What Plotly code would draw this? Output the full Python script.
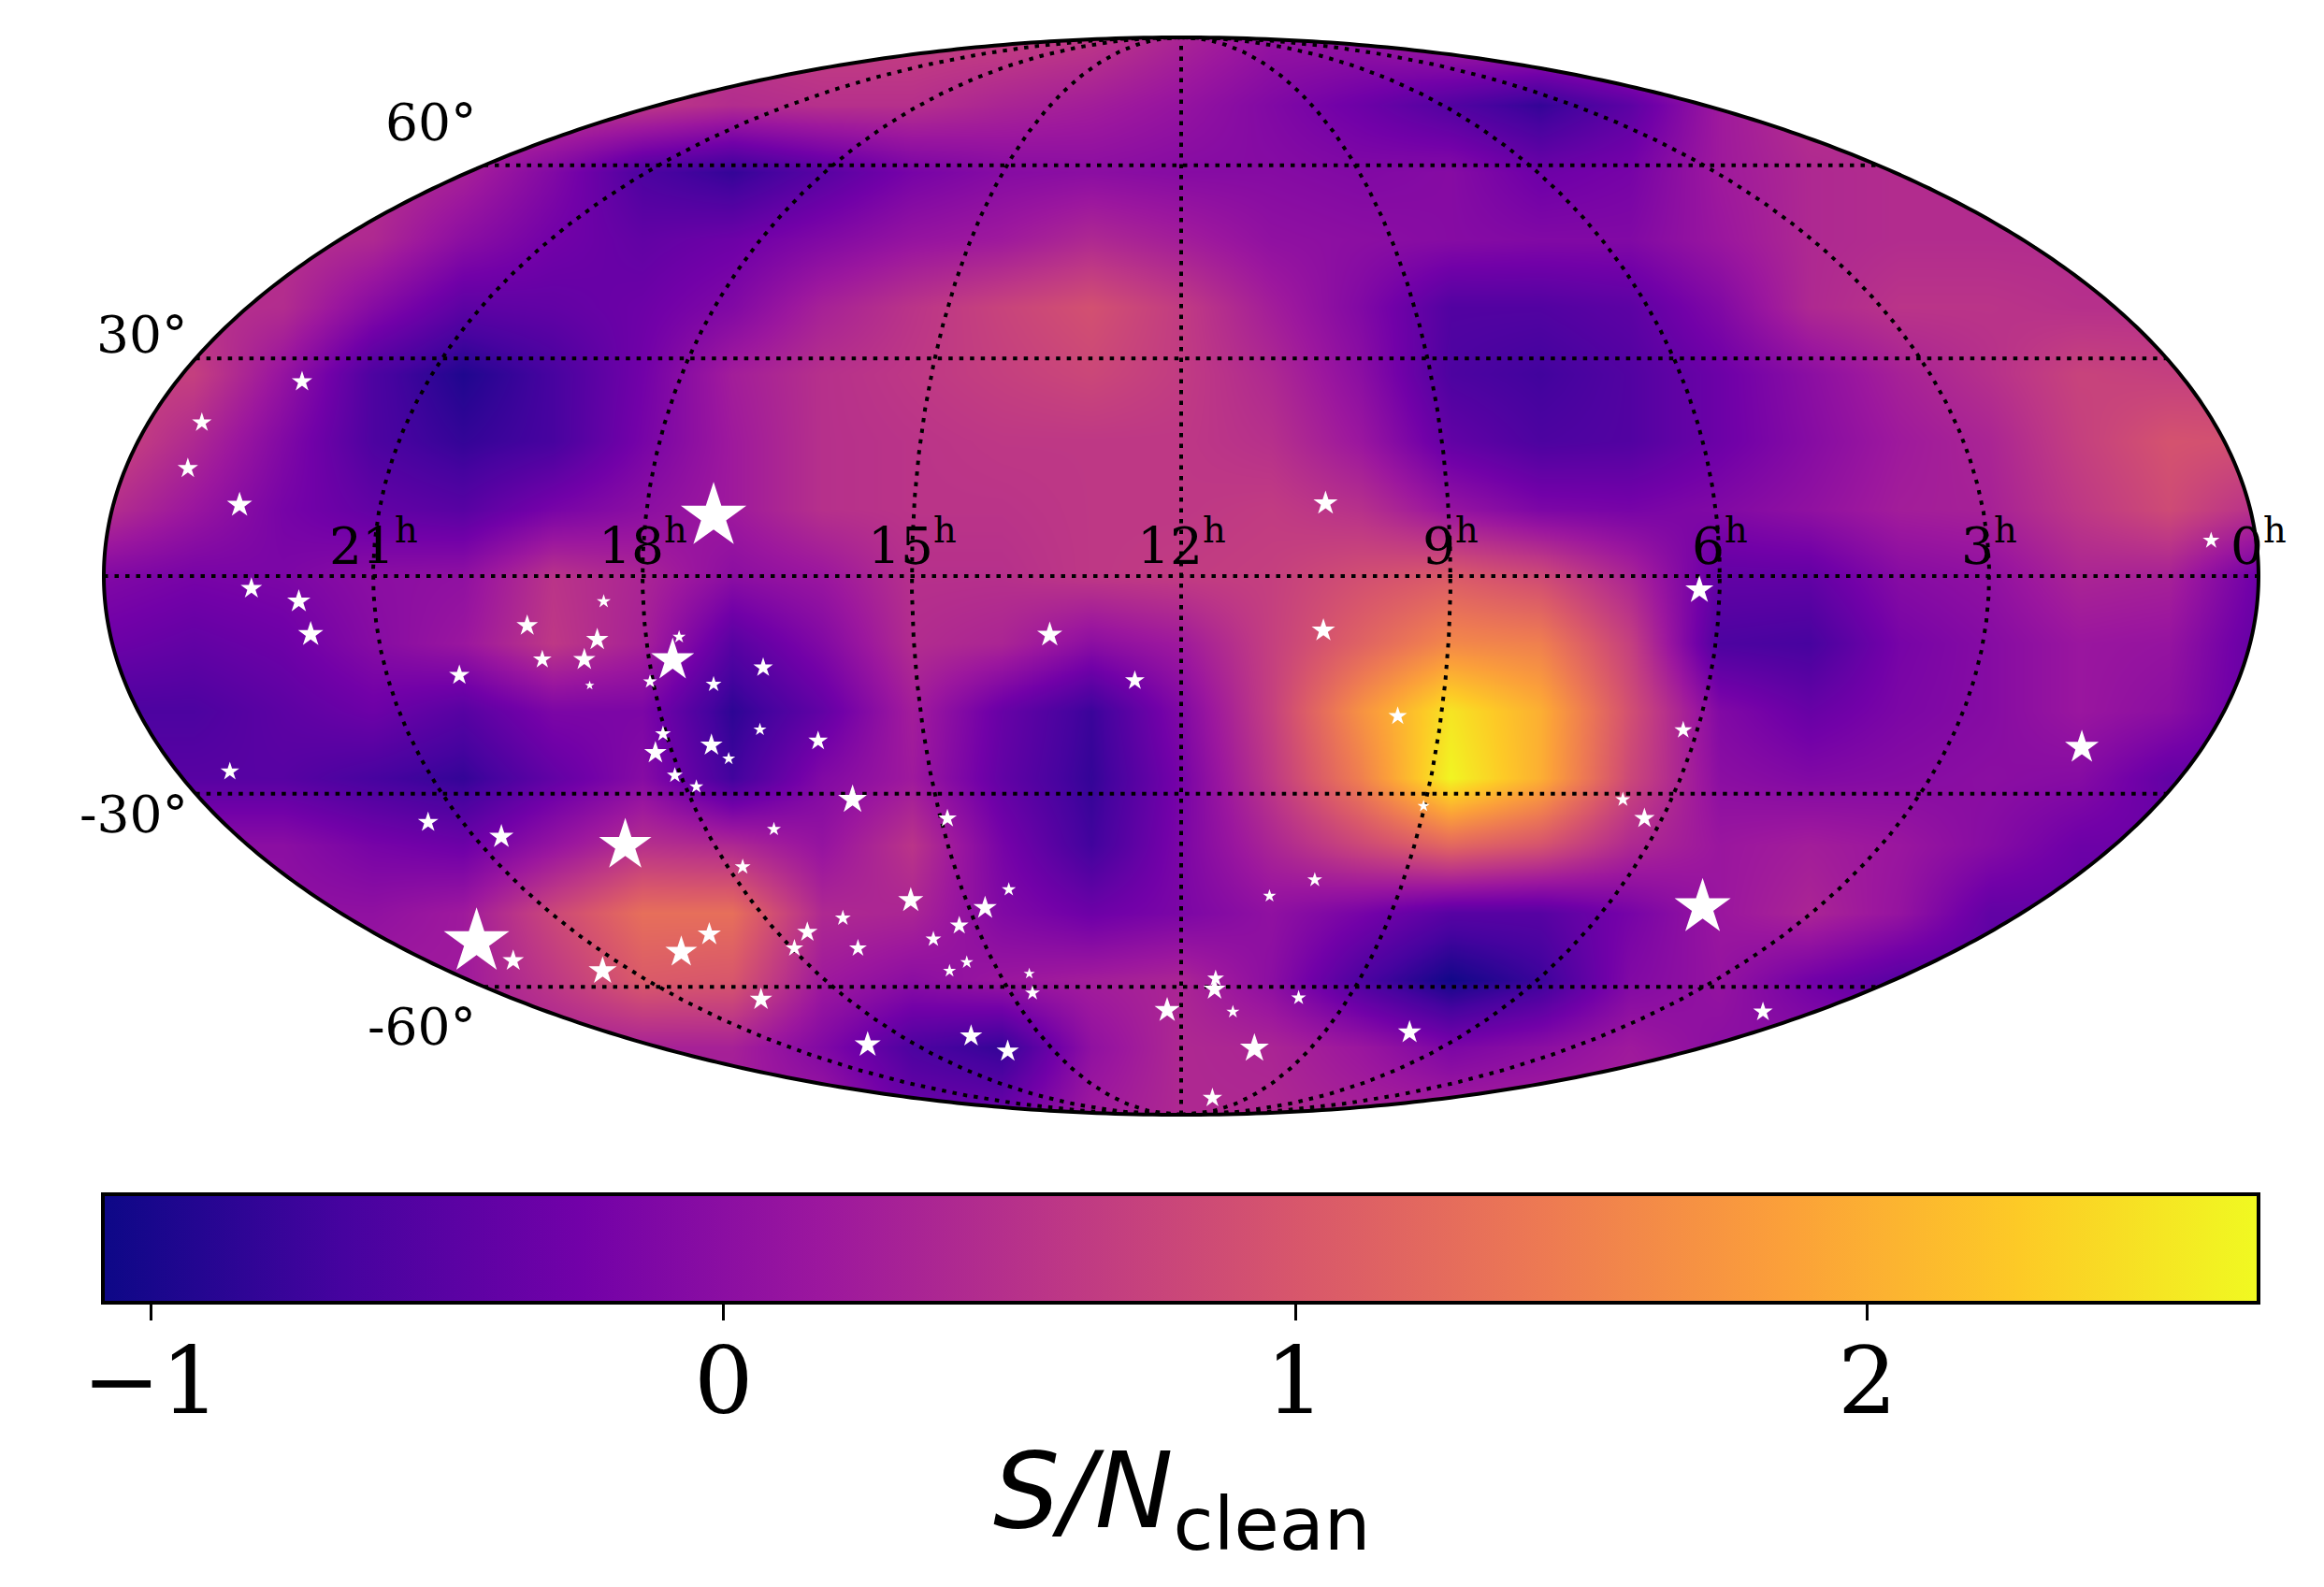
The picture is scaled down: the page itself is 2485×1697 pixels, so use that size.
import numpy as np
import plotly.graph_objects as go

W, H = 2485, 1697

# Sky map values on a regular grid of the projected plane
plane_x = [i / 12 - 1 for i in range(25)]
plane_y = [1 - i / 8 for i in range(17)]
snr_00 = [.6,.6,.6,.6,.6,.6,.6,.6,.7,.7,.7,.6,.35,.1,.1,.3,.4,.5,.5,.5,.5,.5,.5,.5,.5]
snr_01 = [.6,.6,.6,.6,.6,.6,.6,.45,.5,.5,.35,.25,.1,-.1,-.3,-.55,-.8,-.45,.2,.5,.5,.5,.5,.5,.5]
snr_02 = [.5,.5,.5,.5,.3,-.1,-.6,-.8,-.5,-.2,-.05,0,-.05,-.05,-.1,-.05,-.3,-.2,.2,.4,.45,.45,.45,.45,.45]
snr_03 = [.5,.5,.5,.4,0,-.25,-.4,-.3,-.1,.1,.2,.4,.25,.05,0,-.05,-.1,-.1,.15,.4,.45,.45,.45,.45,.45]
snr_04 = [.5,.5,.45,-.05,-.45,-.4,-.3,-.1,.3,.55,.75,.92,.65,.25,-.1,-.55,-.55,-.45,-.1,.4,.55,.55,.5,.5,.5]
snr_05 = [.75,.7,.1,-.6,-.95,-.65,-.25,.25,.5,.6,.7,.8,.65,.4,0,-.6,-.7,-.55,-.3,0,.3,.5,.75,.7,.7]
snr_06 = [.8,.4,-.1,-.6,-.8,-.65,-.2,.2,.5,.55,.6,.6,.6,.5,.15,-.4,-.6,-.55,-.3,-.05,.2,.35,.7,.95,.9]
snr_07 = [.5,.15,-.2,-.4,-.5,-.2,0,.2,.5,.55,.55,.6,.6,.65,.5,.1,-.15,-.2,-.1,.05,.25,.3,.6,.85,.5]
snr_08 = [-.1,-.2,-.15,0,.05,.55,.35,0,.15,.5,.5,.6,.65,.7,.9,1.05,.85,.35,-.4,-.4,-.05,.05,.35,.3,-.3]
snr_09 = [-.3,-.4,-.3,-.05,.15,.6,.3,-.5,-.1,.45,.35,0,.2,.7,1.15,1.6,1.5,.7,-.6,-.65,-.2,-.05,.15,.1,-.4]
snr_10 = [-.6,-.6,-.45,-.3,-.5,-.15,-.15,-.85,-.4,.25,-.35,-.75,-.1,.7,1.7,2.5,2.0,.9,-.1,-.35,-.15,-.05,.15,0,-.4]
snr_11 = [-.5,-.5,-.5,-.65,-.8,-.4,-.05,-.7,-.1,.2,-.4,-.8,-.2,.6,1.5,2.65,2.0,.8,0,-.1,-.05,0,-.05,-.4,-.4]
snr_12 = [0,0,0,-.2,-.3,.1,.5,.4,.1,.55,-.2,-.7,-.15,.35,.8,1.2,.95,.4,.15,.25,.15,-.05,-.3,-.3,-.3]
snr_13 = [.05,.05,.05,.05,.2,.8,1.3,1.3,.4,.35,-.1,-.3,-.15,.05,-.2,-.5,-.5,-.2,.15,.35,.1,-.4,-.4,-.4,-.4]
snr_14 = [.2,.2,.2,.2,.2,.6,1.05,1.0,.2,0,.15,.25,.35,0,-.6,-1.05,-.75,-.1,.1,-.25,-.5,-.5,-.5,-.5,-.5]
snr_15 = [.3,.3,.3,.3,.3,.3,.3,.3,-.1,-.6,-.8,.05,.4,.35,.15,-.15,0,.2,0,0,0,0,0,0,0]
snr_16 = [.2,.2,.2,.2,.2,.2,.2,.2,.2,-.3,-.3,.2,.4,.4,.3,.3,.3,.3,.3,.3,.3,.3,.3,.3,.3]
snr_rows = [snr_00, snr_01, snr_02, snr_03, snr_04, snr_05, snr_06, snr_07, snr_08,
            snr_09, snr_10, snr_11, snr_12, snr_13, snr_14, snr_15, snr_16]

# Sources, in the projected plane (x and y both run from -1 to 1), with marker weight
star_x = [-.816,-.909,-.922,-.874,-.434,.134,.956,-.863,-.819,-.808,-.536,-.607,-.542,-.466,-.472,-.593,-.554,-.670,-.549,-.493,
          -.434,-.388,-.122,-.043,-.391,-.481,-.436,-.488,-.420,-.337,-.883,-.470,-.450,-.305,-.217,-.699,-.631,-.516,-.378,-.407,
          -.251,-.160,-.182,-.314,-.206,-.347,-.438,-.464,-.359,-.300,-.230,-.654,-.620,-.537,-.199,-.215,-.141,-.138,-.390,-.013,
          -.291,-.195,-.161,.481,.132,.201,.466,.836,.410,.225,.430,.124,.082,.484,.032,.031,.109,.048,.212,.540,.068,.029]
star_y = [.361,.285,.200,.132,.111,.135,.066,-.023,-.047,-.108,-.047,-.092,-.118,-.113,-.156,-.155,-.155,-.184,-.203,-.196,
          -.201,-.170,-.109,-.194,-.285,-.293,-.314,-.328,-.339,-.306,-.363,-.370,-.391,-.415,-.450,-.457,-.484,-.500,-.470,-.540,
          -.602,-.582,-.616,-.635,-.649,-.661,-.665,-.698,-.691,-.691,-.674,-.679,-.714,-.733,-.717,-.733,-.738,-.774,-.786,-.806,
          -.870,-.854,-.882,-.026,-.101,-.260,-.286,-.318,-.415,-.427,-.450,-.564,-.594,-.615,-.747,-.767,-.783,-.809,-.847,-.809,-.877,-.969]
star_weight = [22,21,22,27,70,26,18,23,25,27,15,23,24,14,46,20,24,22,10,15,
               17,21,27,21,14,17,24,24,14,21,20,17,15,31,20,22,26,56,15,17,
               27,15,25,17,20,22,25,34,19,19,17,70,23,30,14,14,12,16,24,27,
               28,24,24,30,25,20,19,36,16,13,22,16,14,60,18,24,16,14,25,21,31,21]

ra_hours = [21, 18, 15, 12, 9, 6, 3, 0]
dec_degrees = [60, 30, 0, -30, -60]
dec_label_x = [-.696, -.964, -1.034, -.972, -.705]
dec_label_y = [.842, .448, 0, -.443, -.836]
cbar_ticks = [-1, 0, 1, 2]
cbar_tick_text = ["\u22121", "0", "1", "2"]
z_min, z_max = -1.085, 2.684

# Page geometry, in pixels
MAP_CX, MAP_CY, MAP_HX, MAP_HY = 1263, 616, 1152, 576
PAD = 1.03125
BAR_L, BAR_R, BAR_T = 110, 2415, 1277


def theta_of_lat(lat_deg):
    lat = np.radians(lat_deg)
    t = lat
    for _ in range(50):
        t = t - (2 * t + np.sin(2 * t) - np.pi * np.sin(lat)) / (2 + 2 * np.cos(2 * t))
    return t


fig = go.Figure()
fig.add_trace(go.Heatmap(
    x=plane_x, y=plane_y, z=snr_rows, zsmooth="best",
    colorscale="Plasma", zmin=z_min, zmax=z_max, hoverinfo="skip",
    colorbar=dict(
        orientation="h", x=BAR_L / W, xanchor="left", xref="paper",
        y=(H - BAR_T) / H, yanchor="top", yref="paper", xpad=0, ypad=0,
        lenmode="pixels", len=BAR_R - BAR_L, thicknessmode="pixels", thickness=116,
        outlinecolor="black", outlinewidth=4,
        ticks="outside", ticklen=17, tickwidth=3, tickcolor="black",
        tickmode="array", tickvals=cbar_ticks, showticklabels=False,
    ),
))

dot = dict(color="black", width=4, dash="4.5px,7px")
u = np.linspace(-1, 1, 721)
for ra in ra_hours[:-1]:
    fig.add_trace(go.Scatter(x=(12 - ra) / 12 * np.sqrt(1 - u ** 2), y=u, mode="lines",
                             line=dot, hoverinfo="skip", showlegend=False))
for dec in dec_degrees:
    yv = np.sin(theta_of_lat(dec))
    half = np.sqrt(1 - yv ** 2)
    fig.add_trace(go.Scatter(x=[-half, half], y=[yv, yv], mode="lines",
                             line=dot, hoverinfo="skip", showlegend=False))

fig.add_trace(go.Scatter(
    x=star_x, y=star_y, mode="markers", hoverinfo="skip", showlegend=False,
    marker=dict(symbol="star", color="white", opacity=1, size=star_weight, sizemode="diameter",
                sizeref=1.33, line=dict(width=0)),
))

angle = np.linspace(0, 2 * np.pi, 721)
ring = " L".join(f"{np.cos(a):.5f},{np.sin(a):.5f}" for a in angle)
mask = f"M-1.1,-1.1 L1.1,-1.1 L1.1,1.1 L-1.1,1.1 Z M{ring} Z"
fig.add_shape(type="path", path=mask, xref="x", yref="y", fillcolor="white",
              fillrule="evenodd", line=dict(width=0), layer="above")
fig.add_shape(type="path", path=f"M{ring} Z", xref="x", yref="y",
              line=dict(color="black", width=4), layer="above")

label_font = dict(family="DejaVu Serif", size=55, color="black")
for ra in ra_hours:
    fig.add_annotation(x=(12 - ra) / 12, y=.063, xref="x", yref="y", showarrow=False,
                       text=f"{ra}<sup>h</sup>", font=label_font)
for dec, lx, ly in zip(dec_degrees, dec_label_x, dec_label_y):
    fig.add_annotation(x=lx, y=ly, xref="x", yref="y", showarrow=False,
                       text=f"{dec}°", font=label_font)

for tick, text in zip(cbar_ticks, cbar_tick_text):
    px = BAR_L + (tick - z_min) / (z_max - z_min) * (BAR_R - BAR_L)
    fig.add_annotation(x=px / W, y=1 - 1476 / H, xref="paper", yref="paper", showarrow=False,
                       xanchor="center", yanchor="middle",
                       text=text, font=dict(family="DejaVu Serif", size=100, color="black"))
fig.add_annotation(x=MAP_CX / W, y=1 - 1602 / H, xref="paper", yref="paper", showarrow=False,
                   xanchor="center", yanchor="middle",
                   text="<i>S/N</i><sub>clean</sub>",
                   font=dict(family="DejaVu Sans", size=112, color="black"))

fig.update_layout(
    width=W, height=H, margin=dict(l=0, r=0, t=0, b=0),
    paper_bgcolor="white", plot_bgcolor="white", showlegend=False,
    xaxis=dict(domain=[(MAP_CX - MAP_HX * PAD) / W, (MAP_CX + MAP_HX * PAD) / W],
               range=[-PAD, PAD], visible=False),
    yaxis=dict(domain=[1 - (MAP_CY + MAP_HY * PAD) / H, 1 - (MAP_CY - MAP_HY * PAD) / H],
               range=[-PAD, PAD], visible=False),
)
fig.write_html("out.html", config=dict(displayModeBar=False),
               post_script="document.body.style.margin='0';")
